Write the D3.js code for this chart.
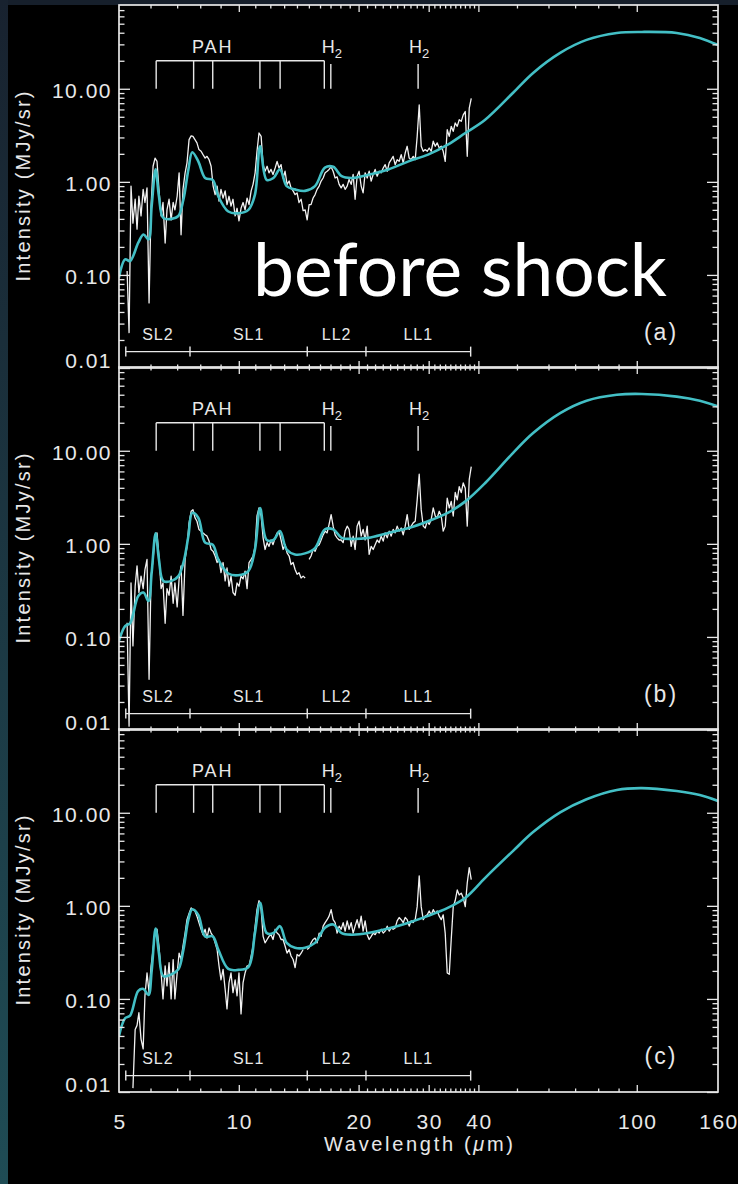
<!DOCTYPE html>
<html>
<head>
<meta charset="utf-8">
<script src="https://cdn.jsdelivr.net/npm/d3@7/dist/d3.min.js"></script>
<style>
  html, body { margin: 0; padding: 0; background: #000; }
  svg { display: block; }
</style>
</head>
<body>
<svg id="chart" width="738" height="1184"></svg>
<script>
// IRS spectral samples (µm), shared by the three spectra
const wavelength = [
  5.24, 5.30, 5.36, 5.42, 5.49, 5.55, 5.61, 5.68, 5.75, 5.81,
  5.88, 5.95, 6.02, 6.09, 6.16, 6.23, 6.30, 6.38, 6.45, 6.53,
  6.60, 6.68, 6.76, 6.84, 6.91, 7.00, 7.08, 7.16, 7.24, 7.33,
  7.41, 7.50, 7.59, 7.67, 7.76, 7.85, 7.94, 8.04, 8.13, 8.23,
  8.32, 8.42, 8.52, 8.62, 8.72, 8.82, 8.92, 9.02, 9.13, 9.24,
  9.34, 9.45, 9.56, 9.67, 9.79, 9.90, 10.01, 10.13, 10.25, 10.37,
  10.49, 10.61, 10.74, 10.86, 10.99, 11.11, 11.24, 11.38, 11.51, 11.64,
  11.78, 11.91, 12.05, 12.19, 12.34, 12.48, 12.62, 12.77, 12.92, 13.07,
  13.22, 13.38, 13.53, 13.69, 13.85, 14.01, 14.17, 14.34, 14.51, 14.68,
  14.85, 15.02, 15.19, 15.37, 15.55, 15.73, 15.92, 16.10, 16.29, 16.48,
  16.67, 16.86, 17.06, 17.26, 17.46, 17.66, 17.87, 18.08, 18.29, 18.50,
  18.72, 18.93, 19.16, 19.38, 19.60, 19.83, 20.06, 20.30, 20.53, 20.77,
  21.02, 21.26, 21.51, 21.76, 22.01, 22.27, 22.53, 22.79, 23.06, 23.32,
  23.60, 23.87, 24.15, 24.43, 24.71, 25.00, 25.29, 25.59, 25.89, 26.19,
  26.49, 26.80, 27.11, 27.43, 27.75, 28.07, 28.40, 28.73, 29.07, 29.40,
  29.75, 30.09, 30.44, 30.80, 31.16, 31.52, 31.89, 32.26, 32.63, 33.01,
  33.40, 33.79, 34.18, 34.58, 34.98, 35.39, 35.80, 36.22, 36.64, 37.07,
  37.50, 37.94, 38.38
];

// Observed intensities (MJy/sr); null marks a gap between modules
const spectrumA = [
  0.11, 0.024, 0.90, 0.36, 0.65, 0.31, 0.70, 0.43, 0.83, 0.60,
  0.86, 0.05, 0.55, 1.47, 1.80, 1.66, 0.83, 0.43, 0.60, 0.22,
  0.50, 0.65, 0.39, 0.60, 0.50, 0.70, 1.25, 0.27, 0.83, 1.25,
  1.60, 2.84, 3.12, 3.08, 2.84, 2.62, 2.22, 2.13, 1.96, 1.80,
  1.88, 1.73, 1.47, 0.90, 0.73, 0.90, 0.62, 0.83, 0.67, 0.80,
  0.57, 0.70, 0.55, 0.65, 0.43, 0.52, 0.38, 0.52, 0.60, 0.50,
  0.67, 0.57, 0.80, 0.94, 1.25, 2.13, 3.35, 3.08, 1.53, 1.30,
  1.47, 1.25, 1.36, 1.20, 1.41, 1.66, 1.41, 1.53, 1.10, 1.30,
  0.94, 1.02, 0.86, 0.80, 0.73, 0.76, 0.60, 0.65, 0.49, 0.50,
  0.39, 0.57, 0.57, 0.67, 0.73, 0.83, 0.90, 1.02, 1.10, 1.25,
  1.30, 1.36, 1.45, 1.30, 1.10, 1.13, 0.94, 0.86, 0.94, 0.83,
  0.90, 1.06, 0.94, 1.20, 0.65, 1.15, 1.30, 0.90, 0.76, 1.25,
  1.10, 1.30, 1.02, 1.20, 1.36, 1.15, 1.30, 1.25, 1.41, 1.53,
  1.30, 1.60, 1.73, 1.88, 1.53, 1.73, 1.66, 1.96, 1.60, 2.04,
  2.41, 1.80, 1.73, 1.88, 1.73, 3.08, 6.7, 2.41, 2.13, 2.22,
  2.13, 2.31, 2.13, 2.73, 2.41, 2.62, 2.31, 2.41, 2.13, 1.66,
  3.63, 3.08, 3.95, 3.49, 4.29, 3.95, 4.65, 4.47, 5.25, 5.7,
  1.88, 6.2, 7.9
];

const spectrumB = [
  0.142, 0.011, 0.38, 0.08, 0.35, 0.58, 0.30, 0.45, 0.33, 0.53,
  0.68, 0.035, 0.45, 0.68, 1.25, 1.31, 0.74, 0.33, 0.38, 0.14,
  0.33, 0.28, 0.45, 0.23, 0.38, 0.21, 0.42, 0.58, 0.17, 0.68,
  0.94, 1.68, 2.24, 2.33, 1.91, 1.75, 1.43, 1.37, 1.31, 1.25,
  1.21, 1.07, 0.87, 0.83, 0.74, 0.63, 0.68, 0.49, 0.63, 0.40,
  0.55, 0.35, 0.45, 0.30, 0.28, 0.38, 0.35, 0.45, 0.42, 0.51,
  0.33, 0.63, 0.68, 0.74, 0.94, 1.99, 2.43, 1.99, 1.16, 0.87,
  1.03, 0.94, 1.10, 0.98, 1.16, 1.31, 1.37, 1.10, 0.87, 0.98,
  0.80, 0.74, 0.60, 0.63, 0.53, 0.47, 0.49, 0.43, 0.45, 0.43,
  null, 0.68, 0.74, 0.87, 0.83, 0.94, 0.98, 1.10, 1.25, 1.37,
  1.31, 1.62, 2.06, 1.55, 1.25, 1.16, 1.10, 1.10, 1.03, 1.37,
  1.55, 1.43, 0.94, 1.21, 0.87, 1.55, 1.75, 1.21, 1.43, 1.10,
  1.55, 0.77, 0.94, 0.87, 0.98, 1.10, 1.03, 1.21, 1.07, 1.31,
  1.16, 1.37, 1.21, 1.43, 1.31, 1.55, 1.37, 1.48, 1.25, 1.55,
  2.06, 1.43, 1.55, 1.68, 1.75, 2.97, 5.6, 2.33, 1.55, 1.48,
  1.75, 1.62, 1.82, 2.43, 1.99, 1.91, 2.24, 1.99, 1.37, 1.55,
  3.10, 2.43, 2.86, 1.99, 3.56, 2.97, 4.11, 3.56, 4.51, 3.95,
  1.55, 4.94, 6.75
];

const spectrumC = [
  null, null, null, 0.011, 0.047, 0.052, 0.071, 0.037, 0.029, 0.108,
  0.19, 0.117, 0.226, 0.34, 0.535, 0.56, 0.37, 0.19, 0.10, 0.226,
  0.138, 0.245, 0.10, 0.265, 0.10, 0.19, 0.31, 0.265, 0.37, 0.51,
  0.71, 0.83, 0.95, 0.91, 0.88, 0.775, 0.66, 0.56, 0.49, 0.56,
  0.45, 0.58, 0.51, 0.47, 0.40, 0.34, 0.226, 0.16, 0.208, 0.127,
  0.078, 0.15, 0.19, 0.117, 0.16, 0.108, 0.19, 0.069, 0.15, 0.19,
  0.226, 0.226, 0.289, 0.37, 0.605, 0.91, 1.14, 0.91, 0.47, 0.40,
  0.435, 0.47, 0.49, 0.435, 0.56, 0.51, 0.49, 0.435, 0.435, 0.37,
  0.31, 0.34, 0.289, 0.265, 0.217, 0.30, 0.289, 0.31, 0.34, null,
  0.34, 0.355, 0.40, 0.435, 0.45, 0.40, 0.51, 0.47, 0.605, 0.66,
  0.71, 0.775, 0.91, 0.71, 0.66, 0.51, 0.605, 0.56, 0.66, 0.535,
  0.69, 0.56, 0.66, 0.51, 0.605, 0.71, 0.58, 0.775, 0.535, 0.69,
  0.49, 0.435, 0.47, 0.51, 0.49, 0.535, 0.51, 0.56, 0.51, 0.535,
  0.605, 0.535, 0.58, 0.56, 0.58, 0.69, 0.75, 0.71, 0.66, 0.75,
  0.71, 0.605, 0.69, 0.66, 0.71, 0.98, 2.1, 0.98, 0.71, 0.775,
  0.80, 0.88, 0.80, 0.91, 0.83, 0.88, 0.775, 0.71, 0.80, 0.51,
  0.19, 0.184, 0.435, 0.98, 1.14, 1.48, 1.31, 1.37, 1.22, 0.98,
  1.76, 2.58, 1.91
];

// Model SED (PAH features + dust continuum) sampled in wavelength (µm)
const modelWavelength = [
  5.00, 5.18, 5.33, 5.59, 5.76, 5.93, 6.04, 6.18, 6.30, 6.46,
  6.78, 7.05, 7.26, 7.47, 7.64, 7.91, 8.23, 8.60, 8.88, 9.41,
  9.97, 10.57, 10.98, 11.31, 11.75, 12.22, 12.69, 13.19, 13.84, 14.67,
  15.54, 16.46, 17.27, 18.13, 19.20, 21.15, 23.75, 26.70, 29.90, 33.50,
  37.10, 41.60, 48.9, 54.9, 64.2, 74.8, 89.1, 103, 126, 144,
  160
];
const modelA = [
  0.094, 0.147, 0.141, 0.222, 0.272, 0.241, 0.55, 1.36, 0.70, 0.41,
  0.40, 0.43, 0.65, 1.36, 2.08, 1.66, 1.10, 1.05, 0.70, 0.48,
  0.46, 0.50, 0.73, 2.41, 1.05, 1.10, 1.36, 0.90, 0.83, 0.80,
  0.90, 1.42, 1.45, 1.15, 1.10, 1.19, 1.36, 1.66, 1.96, 2.51,
  3.35, 4.65, 9.06, 14.8, 24.3, 33.5, 39.8, 40.8, 39.8, 35.2,
  29.5
];
const modelB = [
  0.091, 0.131, 0.14, 0.275, 0.30, 0.243, 0.49, 1.30, 0.68, 0.40,
  0.40, 0.45, 0.63, 1.21, 2.15, 1.91, 1.03, 0.98, 0.68, 0.48,
  0.46, 0.51, 0.87, 2.43, 1.10, 1.10, 1.37, 0.87, 0.77, 0.79,
  0.90, 1.43, 1.43, 1.16, 1.13, 1.16, 1.31, 1.48, 1.75, 2.15,
  2.86, 4.51, 9.5, 15.5, 25.4, 34.5, 40.0, 40.8, 38.2, 34.5,
  29.9
];
const modelC = [
  0.040, 0.062, 0.066, 0.122, 0.128, 0.11, 0.20, 0.57, 0.31, 0.176,
  0.184, 0.208, 0.34, 0.71, 0.92, 0.80, 0.47, 0.47, 0.34, 0.21,
  0.205, 0.22, 0.51, 1.08, 0.51, 0.51, 0.605, 0.40, 0.355, 0.355,
  0.40, 0.58, 0.63, 0.51, 0.49, 0.51, 0.57, 0.66, 0.78, 0.95,
  1.22, 2.0, 3.9, 6.2, 10.1, 14.0, 17.6, 18.4, 17.1, 15.5,
  13.4
];

// Feature markers and IRS module coverage
const pahBands = [6.2, 7.7, 8.6, 11.3, 12.7, 16.4];
const h2Lines = [17.03, 28.22];
const moduleNames = ["SL2", "SL1", "LL2", "LL1"];
const moduleEdges = [5.2, 7.54, 14.86, 20.87, 38.25];
const panelLabels = ["(a)", "(b)", "(c)"];

// Axis ticks and labels
const xTickLabels = [5, 10, 20, 30, 40, 100, 160];
const xMajorTicks = [10, 20, 30, 40, 100];
const yTickValues = [10, 1, 0.1, 0.01];
const yTickLabels = ["10.00", "1.00", "0.10", "0.01"];

const W = 738, H = 1184;
const left = 119, right = 718;
const panelTops = [5, 367, 729];
const panelH = 363;
const yMax = Math.pow(10, 1.9);

const svg = d3.select("#chart");
const ink = "#e8e8e8";
const cyan = "#43bfc5";
const numFont = "'Liberation Sans', Arial, sans-serif";

const x = d3.scaleLog().domain([5, 160]).range([left, right]);

// page background with the slide's dark edges
const defs = svg.append("defs");
const edge = defs.append("linearGradient").attr("id", "edge")
  .attr("x1", 0).attr("y1", 0).attr("x2", 0).attr("y2", 1);
edge.append("stop").attr("offset", "0%").attr("stop-color", "#18222f");
edge.append("stop").attr("offset", "100%").attr("stop-color", "#1f4c55");
svg.append("rect").attr("width", W).attr("height", H).attr("fill", "#000");
svg.append("rect").attr("x", 0).attr("y", 0).attr("width", W).attr("height", 5).attr("fill", "#161f2b");
svg.append("rect").attr("x", 0).attr("y", 0).attr("width", 8).attr("height", H).attr("fill", "url(#edge)");

// minor tick positions
const xMinorTicks = [];
for (let v = 6; v < 40; v++) if (!xMajorTicks.includes(v)) xMinorTicks.push(v);
for (let v = 50; v < 100; v += 10) xMinorTicks.push(v);
const yMinorTicks = [];
[0.01, 0.1, 1, 10].forEach(d => { for (let m = 2; m <= 9; m++) if (d * m < yMax) yMinorTicks.push(d * m); });

const panels = [
  { spectrum: spectrumA, model: modelA },
  { spectrum: spectrumB, model: modelB },
  { spectrum: spectrumC, model: modelC }
];

panels.forEach((p, i) => {
  const top = panelTops[i], bottom = top + panelH;
  const y = d3.scaleLog().domain([0.01, yMax]).range([bottom, top]);
  const g = svg.append("g");

  const clipId = "clip" + i;
  defs.append("clipPath").attr("id", clipId).append("rect")
    .attr("x", left).attr("y", top).attr("width", right - left).attr("height", panelH);

  const plot = g.append("g").attr("clip-path", `url(#${clipId})`);

  // observed spectrum
  const spec = wavelength.map((w, k) => [w, p.spectrum[k]]);
  plot.append("path").datum(spec)
    .attr("d", d3.line().defined(d => d[1] != null).x(d => x(d[0])).y(d => y(d[1])))
    .attr("fill", "none").attr("stroke", "#f2f2f2").attr("stroke-width", 1.3)
    .attr("stroke-linejoin", "round");

  // fitted model
  const mod = modelWavelength.map((w, k) => [w, p.model[k]]);
  plot.append("path").datum(mod)
    .attr("d", d3.line().curve(d3.curveCatmullRom.alpha(0.5)).x(d => x(d[0])).y(d => y(d[1])))
    .attr("fill", "none").attr("stroke", cyan).attr("stroke-width", 2.6)
    .attr("stroke-linejoin", "round");

  // PAH bracket
  const ann = g.append("g").attr("stroke", ink).attr("stroke-width", 1.4).attr("fill", "none");
  ann.append("line").attr("x1", x(pahBands[0])).attr("x2", x(pahBands[pahBands.length - 1]))
    .attr("y1", y(20)).attr("y2", y(20));
  ann.selectAll(".pah").data(pahBands).join("line")
    .attr("x1", d => x(d)).attr("x2", d => x(d)).attr("y1", y(20)).attr("y2", y(10));
  ann.selectAll(".h2").data(h2Lines).join("line").attr("class", "h2")
    .attr("x1", d => x(d)).attr("x2", d => x(d)).attr("y1", y(18.5)).attr("y2", y(10));

  g.append("text").attr("x", x(8.6)).attr("y", y(24.5))
    .attr("text-anchor", "middle").attr("fill", ink)
    .style("font-family", numFont).style("font-size", "18px").style("letter-spacing", "2px")
    .text("PAH");
  h2Lines.forEach(w => {
    const t = g.append("text").attr("x", x(w) + 1).attr("y", y(24.5))
      .attr("text-anchor", "middle").attr("fill", ink)
      .style("font-family", numFont).style("font-size", "18px");
    t.append("tspan").text("H");
    t.append("tspan").attr("dy", 5).style("font-size", "13px").text("2");
  });

  // module coverage bar
  const mod2 = g.append("g").attr("stroke", ink).attr("stroke-width", 1.4);
  mod2.append("line").attr("x1", x(moduleEdges[0])).attr("x2", x(moduleEdges[moduleEdges.length - 1]))
    .attr("y1", y(0.015)).attr("y2", y(0.015));
  mod2.selectAll(".edge").data(moduleEdges).join("line")
    .attr("x1", d => x(d)).attr("x2", d => x(d))
    .attr("y1", y(0.015) - 5).attr("y2", y(0.015) + 5);
  g.selectAll(".mname").data(moduleNames).join("text")
    .attr("x", (d, k) => (x(moduleEdges[k]) + x(moduleEdges[k + 1])) / 2)
    .attr("y", y(0.02)).attr("text-anchor", "middle").attr("fill", ink)
    .style("font-family", numFont).style("font-size", "16px").style("letter-spacing", "1px")
    .text(d => d);

  // panel tag
  g.append("text").attr("x", 661).attr("y", bottom - 28).attr("text-anchor", "middle")
    .attr("fill", ink).style("font-family", numFont).style("font-size", "23px")
    .style("letter-spacing", "2px").text(panelLabels[i]);

  // ticks (inward on all four sides)
  const tickStyle = s => { s.select(".domain").remove(); s.attr("color", ink); s.selectAll("line").attr("stroke-width", 1.3); };
  g.append("g").attr("transform", `translate(0,${bottom})`)
    .call(d3.axisBottom(x).tickValues(xMajorTicks).tickSize(-7).tickFormat("")).call(tickStyle);
  g.append("g").attr("transform", `translate(0,${bottom})`)
    .call(d3.axisBottom(x).tickValues(xMinorTicks).tickSize(-3.5).tickFormat("")).call(tickStyle);
  g.append("g").attr("transform", `translate(0,${top})`)
    .call(d3.axisTop(x).tickValues(xMajorTicks).tickSize(-7).tickFormat("")).call(tickStyle);
  g.append("g").attr("transform", `translate(0,${top})`)
    .call(d3.axisTop(x).tickValues(xMinorTicks).tickSize(-3.5).tickFormat("")).call(tickStyle);
  g.append("g").attr("transform", `translate(${left},0)`)
    .call(d3.axisLeft(y).tickValues(yTickValues).tickSize(-11).tickFormat("")).call(tickStyle);
  g.append("g").attr("transform", `translate(${left},0)`)
    .call(d3.axisLeft(y).tickValues(yMinorTicks).tickSize(-5.5).tickFormat("")).call(tickStyle);
  g.append("g").attr("transform", `translate(${right},0)`)
    .call(d3.axisRight(y).tickValues(yTickValues).tickSize(-11).tickFormat("")).call(tickStyle);
  g.append("g").attr("transform", `translate(${right},0)`)
    .call(d3.axisRight(y).tickValues(yMinorTicks).tickSize(-5.5).tickFormat("")).call(tickStyle);

  // frame
  g.append("rect").attr("x", left).attr("y", top).attr("width", right - left).attr("height", panelH)
    .attr("fill", "none").attr("stroke", ink).attr("stroke-width", 1.7);

  // y tick labels
  g.selectAll(".ylab").data(yTickValues).join("text")
    .attr("x", 112).attr("y", d => y(d) + (d === 0.01 ? 0 : 9))
    .attr("text-anchor", "end").attr("fill", ink)
    .style("font-family", numFont).style("font-size", "21px").style("letter-spacing", "1.5px")
    .text((d, k) => yTickLabels[k]);

  // y title
  g.append("text")
    .attr("transform", `translate(30,${top + panelH / 2}) rotate(-90)`)
    .attr("text-anchor", "middle").attr("fill", ink)
    .attr("textLength", 190).attr("lengthAdjust", "spacing")
    .style("font-family", numFont).style("font-size", "20px")
    .text("Intensity (MJy/sr)");
});

// x tick labels and title under the last panel
const baseY = panelTops[2] + panelH;
svg.selectAll(".xlab").data(xTickLabels).join("text")
  .attr("x", d => x(d) + 1).attr("y", baseY + 37)
  .attr("text-anchor", "middle").attr("fill", ink)
  .style("font-family", numFont).style("font-size", "21px").style("letter-spacing", "1.5px")
  .text(d => d);

const xt = svg.append("text").attr("x", (left + right) / 2).attr("y", baseY + 59)
  .attr("text-anchor", "middle").attr("fill", ink)
  .attr("textLength", 189).attr("lengthAdjust", "spacing")
  .style("font-family", numFont).style("font-size", "20px");
xt.append("tspan").text("Wavelength (");
xt.append("tspan").style("font-style", "italic").text("μ");
xt.append("tspan").text("m)");

// slide caption over the first panel
svg.append("text").attr("x", 253).attr("y", 296)
  .attr("fill", "#fff").attr("textLength", 414).attr("lengthAdjust", "spacingAndGlyphs")
  .style("font-family", "Lato, 'Open Sans', sans-serif").style("font-size", "74px")
  .text("before shock");
</script>
</body>
</html>
